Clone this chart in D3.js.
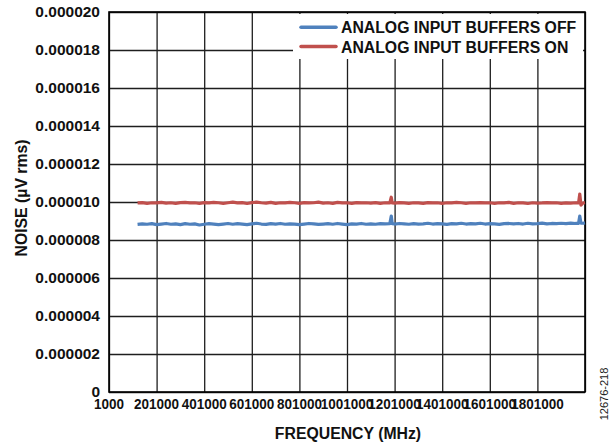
<!DOCTYPE html>
<html>
<head>
<meta charset="utf-8">
<script src="https://cdn.jsdelivr.net/npm/d3@7"></script>
<style>
  html, body { margin: 0; padding: 0; background: #fff; }
  svg text { font-family: "Liberation Sans", Arial, Helvetica, sans-serif; }
</style>
</head>
<body>
<svg id="chart" width="616" height="446"></svg>
<script>
// ---- data (noise in µV units ×1e-6, i.e. 8.83 => 0.00000883) ----
const frequency = [
  121000,141000,161000,181000,201000,221000,241000,261000,281000,301000,
  321000,341000,361000,381000,401000,421000,441000,461000,481000,501000,
  521000,541000,561000,581000,601000,621000,641000,661000,681000,701000,
  721000,741000,761000,781000,801000,821000,841000,861000,881000,901000,
  921000,941000,961000,981000,1001000,1021000,1041000,1061000,1081000,1101000,
  1121000,1141000,1161000,
  1181000,1187000,1191000,
  1201000,1221000,1241000,1261000,1281000,
  1301000,1321000,1341000,1361000,1381000,1401000,1421000,1441000,1461000,1481000,
  1501000,1521000,1541000,1561000,1581000,1601000,1621000,1641000,1661000,1681000,
  1701000,1721000,1741000,1761000,1781000,1801000,1821000,1841000,1861000,1881000,
  1901000,1921000,1941000,1961000,
  1974000,1979000,1984000,1993000,2001000
];
const buffersOff = [
  8.82,8.85,8.83,8.86,8.81,8.84,8.87,8.83,8.85,8.81,
  8.86,8.83,8.85,8.79,8.83,8.86,8.84,8.81,8.84,8.87,
  8.83,8.86,8.84,8.81,8.85,8.88,8.84,8.82,8.86,8.84,
  8.87,8.83,8.85,8.84,8.81,8.84,8.87,8.85,8.82,8.84,
  8.86,8.83,8.87,8.84,8.81,8.85,8.84,8.87,8.83,8.85,
  8.83,8.86,8.85,
  8.86,9.26,8.86,
  8.84,8.87,8.85,8.83,8.86,
  8.84,8.85,8.88,8.84,8.86,8.85,8.82,8.86,8.85,8.88,
  8.84,8.86,8.85,8.88,8.84,8.86,8.85,8.82,8.86,8.87,
  8.85,8.87,8.84,8.88,8.85,8.86,8.89,8.85,8.87,8.86,
  8.88,8.86,8.89,8.87,
  8.88,9.26,8.89,8.88,8.90
];
const buffersOn = [
  9.95,9.97,9.93,9.96,9.95,9.98,9.94,9.96,9.93,9.97,
  9.98,9.95,9.96,9.93,9.97,9.95,9.98,9.96,9.93,9.96,
  9.99,9.95,9.97,9.92,9.97,9.99,9.96,9.94,9.98,9.93,
  9.96,9.95,9.98,9.96,9.93,9.97,9.95,9.96,9.99,9.94,
  9.96,9.93,9.98,9.95,9.96,9.93,9.97,9.95,9.96,9.94,
  9.97,9.93,9.96,
  9.95,10.25,9.95,
  9.94,9.97,9.95,9.93,9.96,
  9.95,9.93,9.97,9.95,9.96,9.93,9.96,9.95,9.98,9.96,
  9.93,9.96,9.95,9.97,9.95,9.96,9.93,9.96,9.95,9.98,
  9.93,9.96,9.95,9.92,9.96,9.94,9.95,9.97,9.95,9.96,
  9.93,9.95,9.94,9.96,
  9.95,10.42,9.84,9.95,9.97
];
const seriesNames = ["ANALOG INPUT BUFFERS OFF", "ANALOG INPUT BUFFERS ON"];
const seriesColors = ["#4F81BD", "#C0504D"];
const xTickValues = [1000,201000,401000,601000,801000,1001000,1201000,1401000,1601000,1801000,2001000];
const xTickLabels = ["1000","201000","401000","601000","801000","1001000","1201000","1401000","1601000","1801000",""];
const yTickValues = [0,2,4,6,8,10,12,14,16,18,20];
const yTickLabels = ["0","0.000002","0.000004","0.000006","0.000008","0.000010","0.000012","0.000014","0.000016","0.000018","0.000020"];
const xTitle = "FREQUENCY (MHz)";
const yTitle = "NOISE (µV rms)";
const figureId = "12676-218";

// ---- layout ----
const svg = d3.select("#chart");
const L = 109, R = 585, T = 12, B = 392;
const x = d3.scaleLinear().domain([1000, 2001000]).range([L, R]);
const y = d3.scaleLinear().domain([0, 20]).range([B, T]);

// gridlines
const gridColor = "#1e1e1e";
svg.append("g")
  .attr("transform", `translate(0,${B})`)
  .call(d3.axisBottom(x).tickValues(xTickValues).tickSize(-(B - T)).tickFormat(""))
  .call(g => g.select(".domain").remove())
  .call(g => g.selectAll("line").attr("stroke", gridColor).attr("stroke-width", 1.3));
svg.append("g")
  .attr("transform", `translate(${L},0)`)
  .call(d3.axisLeft(y).tickValues(yTickValues).tickSize(-(R - L)).tickFormat(""))
  .call(g => g.select(".domain").remove())
  .call(g => g.selectAll("line").attr("stroke", gridColor).attr("stroke-width", 1.3));

// frame
svg.append("rect").attr("x", L).attr("y", T).attr("width", R - L).attr("height", B - T)
  .attr("fill", "none").attr("stroke", "#000").attr("stroke-width", 1.6);

// y tick labels
svg.append("g").selectAll("text").data(yTickValues).join("text")
  .attr("x", 100).attr("y", d => y(d)).attr("dy", "0.33em")
  .attr("text-anchor", "end").attr("font-size", 15.5).attr("font-weight", "bold").attr("fill", "#111")
  .text((d, i) => yTickLabels[i]);

// x tick labels (slightly condensed)
svg.append("g").selectAll("g").data(xTickValues).join("g")
  .attr("transform", d => `translate(${x(d)},409)`)
  .append("text")
  .attr("transform", "scale(0.9,1)")
  .attr("text-anchor", "middle").attr("font-size", 15).attr("font-weight", "bold").attr("fill", "#111")
  .text((d, i) => xTickLabels[i]);

// data lines
const line = d3.line().x((d, i) => x(frequency[i])).y(d => y(d));
[buffersOff, buffersOn].forEach((vals, k) => {
  svg.append("path").datum(vals)
    .attr("d", line)
    .attr("fill", "none")
    .attr("stroke", seriesColors[k])
    .attr("stroke-width", 3.2)
    .attr("stroke-linejoin", "round");
});

// legend
svg.append("rect").attr("x", 293).attr("y", 14).attr("width", 290).attr("height", 45).attr("fill", "#fff");
const legY = [27.3, 46.5];
seriesNames.forEach((name, k) => {
  svg.append("line").attr("x1", 301).attr("x2", 336).attr("y1", legY[k]).attr("y2", legY[k])
    .attr("stroke", seriesColors[k]).attr("stroke-width", 3.5).attr("stroke-linecap", "round");
  svg.append("text").attr("x", 341).attr("y", legY[k] + 6).attr("font-size", 15.8)
    .attr("font-weight", "bold").attr("fill", "#111").text(name);
});

// axis titles
svg.append("text").attr("x", 348).attr("y", 439).attr("text-anchor", "middle")
  .attr("font-size", 15.8).attr("font-weight", "bold").attr("fill", "#111").text(xTitle);
svg.append("text").attr("transform", "translate(26.5,198) rotate(-90)").attr("text-anchor", "middle")
  .attr("font-size", 15.8).attr("font-weight", "bold").attr("fill", "#111").text(yTitle);

// figure id
svg.append("text").attr("transform", "translate(607.5,394) rotate(-90)").attr("text-anchor", "middle")
  .attr("font-size", 11).attr("fill", "#222").text(figureId);
</script>
</body>
</html>
